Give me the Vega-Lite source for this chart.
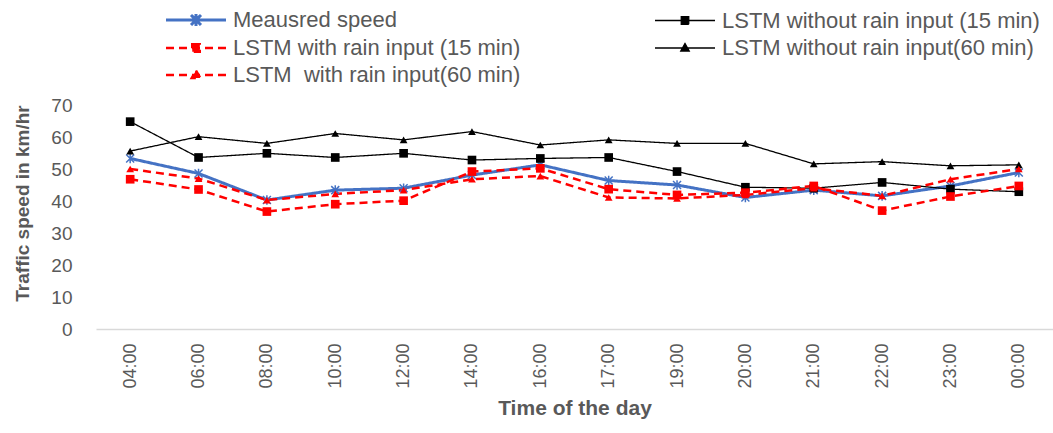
{
  "$schema": "https://vega.github.io/schema/vega-lite/v6.json",
  "width": 957,
  "height": 224,
  "autosize": {"type": "none"},
  "padding": {"left": 96, "top": 105, "right": 0, "bottom": 104},
  "background": "white",
  "config": {
    "view": {"stroke": null},
    "font": "Liberation Sans"
  },
  "data": {
    "values": [
      {"time": "04:00", "series": "Meausred speed", "speed": 53.3},
      {"time": "06:00", "series": "Meausred speed", "speed": 48.6},
      {"time": "08:00", "series": "Meausred speed", "speed": 40.3},
      {"time": "10:00", "series": "Meausred speed", "speed": 43.4},
      {"time": "12:00", "series": "Meausred speed", "speed": 44.0},
      {"time": "14:00", "series": "Meausred speed", "speed": 48.1},
      {"time": "16:00", "series": "Meausred speed", "speed": 51.3},
      {"time": "17:00", "series": "Meausred speed", "speed": 46.4},
      {"time": "19:00", "series": "Meausred speed", "speed": 45.0},
      {"time": "20:00", "series": "Meausred speed", "speed": 41.1},
      {"time": "21:00", "series": "Meausred speed", "speed": 43.4},
      {"time": "22:00", "series": "Meausred speed", "speed": 41.6},
      {"time": "23:00", "series": "Meausred speed", "speed": 44.7},
      {"time": "00:00", "series": "Meausred speed", "speed": 48.9},

      {"time": "04:00", "series": "LSTM without rain input (15 min)", "speed": 64.8},
      {"time": "06:00", "series": "LSTM without rain input (15 min)", "speed": 53.6},
      {"time": "08:00", "series": "LSTM without rain input (15 min)", "speed": 54.9},
      {"time": "10:00", "series": "LSTM without rain input (15 min)", "speed": 53.6},
      {"time": "12:00", "series": "LSTM without rain input (15 min)", "speed": 54.9},
      {"time": "14:00", "series": "LSTM without rain input (15 min)", "speed": 52.8},
      {"time": "16:00", "series": "LSTM without rain input (15 min)", "speed": 53.3},
      {"time": "17:00", "series": "LSTM without rain input (15 min)", "speed": 53.6},
      {"time": "19:00", "series": "LSTM without rain input (15 min)", "speed": 49.2},
      {"time": "20:00", "series": "LSTM without rain input (15 min)", "speed": 44.3},
      {"time": "21:00", "series": "LSTM without rain input (15 min)", "speed": 44.0},
      {"time": "22:00", "series": "LSTM without rain input (15 min)", "speed": 45.8},
      {"time": "23:00", "series": "LSTM without rain input (15 min)", "speed": 43.7},
      {"time": "00:00", "series": "LSTM without rain input (15 min)", "speed": 42.9},

      {"time": "04:00", "series": "LSTM with rain input (15 min)", "speed": 46.8},
      {"time": "06:00", "series": "LSTM with rain input (15 min)", "speed": 43.6},
      {"time": "08:00", "series": "LSTM with rain input (15 min)", "speed": 36.7},
      {"time": "10:00", "series": "LSTM with rain input (15 min)", "speed": 39.0},
      {"time": "12:00", "series": "LSTM with rain input (15 min)", "speed": 40.1},
      {"time": "14:00", "series": "LSTM with rain input (15 min)", "speed": 49.2},
      {"time": "16:00", "series": "LSTM with rain input (15 min)", "speed": 50.2},
      {"time": "17:00", "series": "LSTM with rain input (15 min)", "speed": 43.7},
      {"time": "19:00", "series": "LSTM with rain input (15 min)", "speed": 41.9},
      {"time": "20:00", "series": "LSTM with rain input (15 min)", "speed": 42.6},
      {"time": "21:00", "series": "LSTM with rain input (15 min)", "speed": 44.7},
      {"time": "22:00", "series": "LSTM with rain input (15 min)", "speed": 37.0},
      {"time": "23:00", "series": "LSTM with rain input (15 min)", "speed": 41.4},
      {"time": "00:00", "series": "LSTM with rain input (15 min)", "speed": 44.7},

      {"time": "04:00", "series": "LSTM without rain input(60 min)", "speed": 55.6},
      {"time": "06:00", "series": "LSTM without rain input(60 min)", "speed": 60.1},
      {"time": "08:00", "series": "LSTM without rain input(60 min)", "speed": 58.0},
      {"time": "10:00", "series": "LSTM without rain input(60 min)", "speed": 61.1},
      {"time": "12:00", "series": "LSTM without rain input(60 min)", "speed": 59.1},
      {"time": "14:00", "series": "LSTM without rain input(60 min)", "speed": 61.7},
      {"time": "16:00", "series": "LSTM without rain input(60 min)", "speed": 57.5},
      {"time": "17:00", "series": "LSTM without rain input(60 min)", "speed": 59.1},
      {"time": "19:00", "series": "LSTM without rain input(60 min)", "speed": 58.0},
      {"time": "20:00", "series": "LSTM without rain input(60 min)", "speed": 58.0},
      {"time": "21:00", "series": "LSTM without rain input(60 min)", "speed": 51.6},
      {"time": "22:00", "series": "LSTM without rain input(60 min)", "speed": 52.3},
      {"time": "23:00", "series": "LSTM without rain input(60 min)", "speed": 51.0},
      {"time": "00:00", "series": "LSTM without rain input(60 min)", "speed": 51.3},

      {"time": "04:00", "series": "LSTM\u00a0 with rain input(60 min)", "speed": 50.0},
      {"time": "06:00", "series": "LSTM\u00a0 with rain input(60 min)", "speed": 47.0},
      {"time": "08:00", "series": "LSTM\u00a0 with rain input(60 min)", "speed": 40.3},
      {"time": "10:00", "series": "LSTM\u00a0 with rain input(60 min)", "speed": 42.2},
      {"time": "12:00", "series": "LSTM\u00a0 with rain input(60 min)", "speed": 43.4},
      {"time": "14:00", "series": "LSTM\u00a0 with rain input(60 min)", "speed": 46.8},
      {"time": "16:00", "series": "LSTM\u00a0 with rain input(60 min)", "speed": 47.8},
      {"time": "17:00", "series": "LSTM\u00a0 with rain input(60 min)", "speed": 41.1},
      {"time": "19:00", "series": "LSTM\u00a0 with rain input(60 min)", "speed": 40.8},
      {"time": "20:00", "series": "LSTM\u00a0 with rain input(60 min)", "speed": 41.9},
      {"time": "21:00", "series": "LSTM\u00a0 with rain input(60 min)", "speed": 44.0},
      {"time": "22:00", "series": "LSTM\u00a0 with rain input(60 min)", "speed": 41.6},
      {"time": "23:00", "series": "LSTM\u00a0 with rain input(60 min)", "speed": 46.8},
      {"time": "00:00", "series": "LSTM\u00a0 with rain input(60 min)", "speed": 50.0}
    ]
  },
  "encoding": {
    "x": {
      "field": "time",
      "type": "ordinal",
      "sort": null,
      "scale": {"type": "point", "padding": 0.5},
      "axis": {
        "title": "Time of the day",
        "titleFontSize": 21,
        "titleFontWeight": "bold",
        "titleColor": "#595959",
        "titlePadding": 9,
        "labelAngle": -90,
        "labelFontSize": 18,
        "labelColor": "#595959",
        "labelPadding": 14,
        "ticks": false,
        "domainColor": "#d9d9d9",
        "domainWidth": 1.5,
        "grid": false
      }
    },
    "y": {
      "field": "speed",
      "type": "quantitative",
      "scale": {"domain": [0, 70], "nice": false},
      "axis": {
        "title": "Traffic speed in km/hr",
        "titleFontSize": 19,
        "titleFontWeight": "bold",
        "titleColor": "#595959",
        "titleX": -74,
        "titleY": 98,
        "titleAlign": "center",
        "titleBaseline": "middle",
        "titleAngle": -90,
        "values": [0, 10, 20, 30, 40, 50, 60, 70],
        "labelFontSize": 19,
        "labelColor": "#595959",
        "labelPadding": 24,
        "ticks": false,
        "domain": false,
        "grid": false
      }
    },
    "color": {
      "field": "series",
      "type": "nominal",
      "scale": {
        "domain": ["Meausred speed", "LSTM with rain input (15 min)", "LSTM\u00a0 with rain input(60 min)", "LSTM without rain input (15 min)", "LSTM without rain input(60 min)"],
        "range": ["#4472C4", "#FF0000", "#FF0000", "#000000", "#000000"]
      }
    }
  },
  "layer": [
    {
      "mark": {"type": "line"},
      "encoding": {
        "color": {
          "field": "series",
          "type": "nominal",
          "legend": {
            "title": null,
            "orient": "none",
            "legendX": 89,
            "legendY": -96,
            "direction": "vertical",
            "columns": 2,
            "columnPadding": 131,
            "rowPadding": 5,
            "padding": 0,
            "labelFontSize": 22,
            "labelColor": "#595959",
            "labelOffset": 26,
            "labelLimit": 500,
            "symbolSize": 100,
            "symbolType": "circle",
            "encode": {
              "symbols": {
                "update": {
                  "shape": {"signal": "datum.value === 'Meausred speed' ? 'M-6,0H6M-1,-1L1,1M1,-1L-1,1M0,-1.2V1.2' : (indexof(datum.value, '15') >= 0 ? 'M-6,0H6M-0.75,-0.75H0.75V0.75H-0.75Z' : 'M-6,0H6M0,-0.9L0.85,0.6H-0.85Z')"},
                  "fill": {"signal": "scale('color', datum.value)"},
                  "stroke": {"signal": "scale('color', datum.value)"},
                  "strokeDash": {"signal": "indexof(datum.value, ' with ') >= 0 ? [7, 6] : [1, 0]"},
                  "strokeWidth": {"signal": "datum.value === 'Meausred speed' ? 2 : (indexof(datum.value, 'without') >= 0 ? 1.5 : 2.5)"},
                  "opacity": {"value": 1},
                  "fillOpacity": {"value": 1}
                }
              }
            }
          }
        },
        "strokeDash": {
          "field": "series",
          "type": "nominal",
          "legend": null,
          "scale": {
            "domain": ["Meausred speed", "LSTM with rain input (15 min)", "LSTM\u00a0 with rain input(60 min)", "LSTM without rain input (15 min)", "LSTM without rain input(60 min)"],
            "range": [[1, 0], [8, 5], [8, 5], [1, 0], [1, 0]]
          }
        },
        "strokeWidth": {
          "field": "series",
          "type": "nominal",
          "legend": null,
          "scale": {
            "type": "ordinal",
            "domain": ["Meausred speed", "LSTM with rain input (15 min)", "LSTM\u00a0 with rain input(60 min)", "LSTM without rain input (15 min)", "LSTM without rain input(60 min)"],
            "range": [3, 2.5, 2.5, 1.3, 1.3]
          }
        },
        "order": {"value": null}
      }
    },
    {
      "transform": [{"filter": "datum.series === 'Meausred speed'"}],
      "mark": {"type": "point", "filled": false, "opacity": 1, "strokeWidth": 1.5, "size": 64, "shape": "M-1,-1L1,1M1,-1L-1,1M0,-1.2V1.2"}
    },
    {
      "transform": [{"filter": "indexof(datum.series, '15 min') >= 0"}],
      "mark": {"type": "point", "filled": true, "opacity": 1, "size": 75, "shape": "square"}
    },
    {
      "transform": [{"filter": "indexof(datum.series, '60 min') >= 0"}],
      "mark": {"type": "point", "filled": true, "opacity": 1, "size": 60, "shape": "triangle-up"}
    }
  ]
}
